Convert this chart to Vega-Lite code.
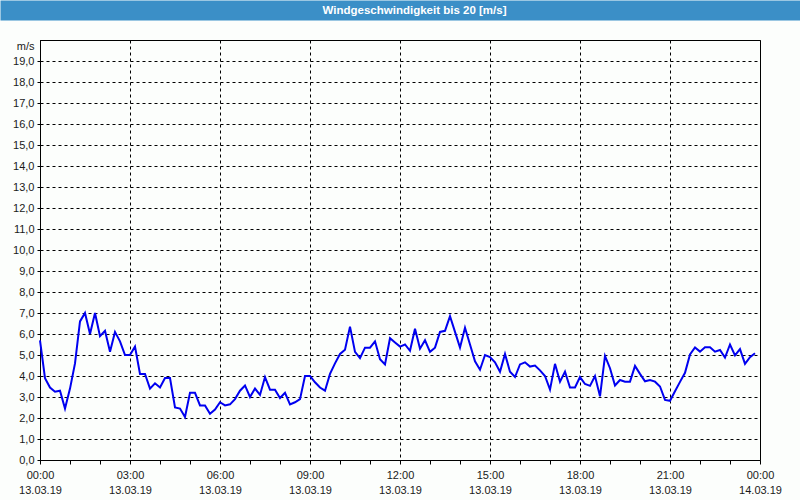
{
  "$schema": "https://vega.github.io/schema/vega-lite/v6.json",
  "background": "#fcfefc",
  "autosize": {"type": "none"},
  "padding": {"left": 40, "top": 40, "right": 40, "bottom": 40},
  "width": 720,
  "height": 420,
  "view": {"fill": "#fcfefc", "stroke": "black", "strokeWidth": 1},
  "data": {"values": [
    {"time": "2019-03-13T00:00:00Z", "speed": 5.7},
    {"time": "2019-03-13T00:10:00Z", "speed": 3.9},
    {"time": "2019-03-13T00:20:00Z", "speed": 3.45},
    {"time": "2019-03-13T00:30:00Z", "speed": 3.25},
    {"time": "2019-03-13T00:40:00Z", "speed": 3.3},
    {"time": "2019-03-13T00:50:00Z", "speed": 2.45},
    {"time": "2019-03-13T01:00:00Z", "speed": 3.4},
    {"time": "2019-03-13T01:10:00Z", "speed": 4.6},
    {"time": "2019-03-13T01:20:00Z", "speed": 6.6},
    {"time": "2019-03-13T01:30:00Z", "speed": 7.0},
    {"time": "2019-03-13T01:40:00Z", "speed": 6.0},
    {"time": "2019-03-13T01:50:00Z", "speed": 7.0},
    {"time": "2019-03-13T02:00:00Z", "speed": 5.9},
    {"time": "2019-03-13T02:10:00Z", "speed": 6.15},
    {"time": "2019-03-13T02:20:00Z", "speed": 5.15},
    {"time": "2019-03-13T02:30:00Z", "speed": 6.1},
    {"time": "2019-03-13T02:40:00Z", "speed": 5.65},
    {"time": "2019-03-13T02:50:00Z", "speed": 5.0},
    {"time": "2019-03-13T03:00:00Z", "speed": 5.0},
    {"time": "2019-03-13T03:10:00Z", "speed": 5.4},
    {"time": "2019-03-13T03:20:00Z", "speed": 4.1},
    {"time": "2019-03-13T03:30:00Z", "speed": 4.1},
    {"time": "2019-03-13T03:40:00Z", "speed": 3.4},
    {"time": "2019-03-13T03:50:00Z", "speed": 3.65},
    {"time": "2019-03-13T04:00:00Z", "speed": 3.45},
    {"time": "2019-03-13T04:10:00Z", "speed": 3.9},
    {"time": "2019-03-13T04:20:00Z", "speed": 3.9},
    {"time": "2019-03-13T04:30:00Z", "speed": 2.5},
    {"time": "2019-03-13T04:40:00Z", "speed": 2.45},
    {"time": "2019-03-13T04:50:00Z", "speed": 2.05},
    {"time": "2019-03-13T05:00:00Z", "speed": 3.2},
    {"time": "2019-03-13T05:10:00Z", "speed": 3.2},
    {"time": "2019-03-13T05:20:00Z", "speed": 2.6},
    {"time": "2019-03-13T05:30:00Z", "speed": 2.6},
    {"time": "2019-03-13T05:40:00Z", "speed": 2.2},
    {"time": "2019-03-13T05:50:00Z", "speed": 2.4},
    {"time": "2019-03-13T06:00:00Z", "speed": 2.75},
    {"time": "2019-03-13T06:10:00Z", "speed": 2.6},
    {"time": "2019-03-13T06:20:00Z", "speed": 2.65},
    {"time": "2019-03-13T06:30:00Z", "speed": 2.9},
    {"time": "2019-03-13T06:40:00Z", "speed": 3.3},
    {"time": "2019-03-13T06:50:00Z", "speed": 3.55},
    {"time": "2019-03-13T07:00:00Z", "speed": 3.0},
    {"time": "2019-03-13T07:10:00Z", "speed": 3.4},
    {"time": "2019-03-13T07:20:00Z", "speed": 3.1},
    {"time": "2019-03-13T07:30:00Z", "speed": 3.95},
    {"time": "2019-03-13T07:40:00Z", "speed": 3.35},
    {"time": "2019-03-13T07:50:00Z", "speed": 3.35},
    {"time": "2019-03-13T08:00:00Z", "speed": 2.95},
    {"time": "2019-03-13T08:10:00Z", "speed": 3.2},
    {"time": "2019-03-13T08:20:00Z", "speed": 2.65},
    {"time": "2019-03-13T08:30:00Z", "speed": 2.75},
    {"time": "2019-03-13T08:40:00Z", "speed": 2.9},
    {"time": "2019-03-13T08:50:00Z", "speed": 4.0},
    {"time": "2019-03-13T09:00:00Z", "speed": 4.0},
    {"time": "2019-03-13T09:10:00Z", "speed": 3.7},
    {"time": "2019-03-13T09:20:00Z", "speed": 3.45},
    {"time": "2019-03-13T09:30:00Z", "speed": 3.3},
    {"time": "2019-03-13T09:40:00Z", "speed": 4.1},
    {"time": "2019-03-13T09:50:00Z", "speed": 4.6},
    {"time": "2019-03-13T10:00:00Z", "speed": 5.05},
    {"time": "2019-03-13T10:10:00Z", "speed": 5.25},
    {"time": "2019-03-13T10:20:00Z", "speed": 6.35},
    {"time": "2019-03-13T10:30:00Z", "speed": 5.15},
    {"time": "2019-03-13T10:40:00Z", "speed": 4.85},
    {"time": "2019-03-13T10:50:00Z", "speed": 5.35},
    {"time": "2019-03-13T11:00:00Z", "speed": 5.35},
    {"time": "2019-03-13T11:10:00Z", "speed": 5.65},
    {"time": "2019-03-13T11:20:00Z", "speed": 4.8},
    {"time": "2019-03-13T11:30:00Z", "speed": 4.55},
    {"time": "2019-03-13T11:40:00Z", "speed": 5.8},
    {"time": "2019-03-13T11:50:00Z", "speed": 5.6},
    {"time": "2019-03-13T12:00:00Z", "speed": 5.4},
    {"time": "2019-03-13T12:10:00Z", "speed": 5.5},
    {"time": "2019-03-13T12:20:00Z", "speed": 5.2},
    {"time": "2019-03-13T12:30:00Z", "speed": 6.25},
    {"time": "2019-03-13T12:40:00Z", "speed": 5.3},
    {"time": "2019-03-13T12:50:00Z", "speed": 5.7},
    {"time": "2019-03-13T13:00:00Z", "speed": 5.15},
    {"time": "2019-03-13T13:10:00Z", "speed": 5.35},
    {"time": "2019-03-13T13:20:00Z", "speed": 6.1},
    {"time": "2019-03-13T13:30:00Z", "speed": 6.15},
    {"time": "2019-03-13T13:40:00Z", "speed": 6.85},
    {"time": "2019-03-13T13:50:00Z", "speed": 6.1},
    {"time": "2019-03-13T14:00:00Z", "speed": 5.35},
    {"time": "2019-03-13T14:10:00Z", "speed": 6.3},
    {"time": "2019-03-13T14:20:00Z", "speed": 5.5},
    {"time": "2019-03-13T14:30:00Z", "speed": 4.7},
    {"time": "2019-03-13T14:40:00Z", "speed": 4.3},
    {"time": "2019-03-13T14:50:00Z", "speed": 5.0},
    {"time": "2019-03-13T15:00:00Z", "speed": 4.9},
    {"time": "2019-03-13T15:10:00Z", "speed": 4.65},
    {"time": "2019-03-13T15:20:00Z", "speed": 4.2},
    {"time": "2019-03-13T15:30:00Z", "speed": 5.05},
    {"time": "2019-03-13T15:40:00Z", "speed": 4.2},
    {"time": "2019-03-13T15:50:00Z", "speed": 3.95},
    {"time": "2019-03-13T16:00:00Z", "speed": 4.55},
    {"time": "2019-03-13T16:10:00Z", "speed": 4.65},
    {"time": "2019-03-13T16:20:00Z", "speed": 4.45},
    {"time": "2019-03-13T16:30:00Z", "speed": 4.5},
    {"time": "2019-03-13T16:40:00Z", "speed": 4.27},
    {"time": "2019-03-13T16:50:00Z", "speed": 4.0},
    {"time": "2019-03-13T17:00:00Z", "speed": 3.35},
    {"time": "2019-03-13T17:10:00Z", "speed": 4.58},
    {"time": "2019-03-13T17:20:00Z", "speed": 3.73},
    {"time": "2019-03-13T17:30:00Z", "speed": 4.21},
    {"time": "2019-03-13T17:40:00Z", "speed": 3.45},
    {"time": "2019-03-13T17:50:00Z", "speed": 3.45},
    {"time": "2019-03-13T18:00:00Z", "speed": 3.95},
    {"time": "2019-03-13T18:10:00Z", "speed": 3.62},
    {"time": "2019-03-13T18:20:00Z", "speed": 3.53},
    {"time": "2019-03-13T18:30:00Z", "speed": 4.0},
    {"time": "2019-03-13T18:40:00Z", "speed": 3.03},
    {"time": "2019-03-13T18:50:00Z", "speed": 4.96},
    {"time": "2019-03-13T19:00:00Z", "speed": 4.37},
    {"time": "2019-03-13T19:10:00Z", "speed": 3.55},
    {"time": "2019-03-13T19:20:00Z", "speed": 3.81},
    {"time": "2019-03-13T19:30:00Z", "speed": 3.73},
    {"time": "2019-03-13T19:40:00Z", "speed": 3.73},
    {"time": "2019-03-13T19:50:00Z", "speed": 4.48},
    {"time": "2019-03-13T20:00:00Z", "speed": 4.1},
    {"time": "2019-03-13T20:10:00Z", "speed": 3.75},
    {"time": "2019-03-13T20:20:00Z", "speed": 3.81},
    {"time": "2019-03-13T20:30:00Z", "speed": 3.73},
    {"time": "2019-03-13T20:40:00Z", "speed": 3.5},
    {"time": "2019-03-13T20:50:00Z", "speed": 2.86},
    {"time": "2019-03-13T21:00:00Z", "speed": 2.82},
    {"time": "2019-03-13T21:10:00Z", "speed": 3.27},
    {"time": "2019-03-13T21:20:00Z", "speed": 3.72},
    {"time": "2019-03-13T21:30:00Z", "speed": 4.15},
    {"time": "2019-03-13T21:40:00Z", "speed": 5.03},
    {"time": "2019-03-13T21:50:00Z", "speed": 5.36},
    {"time": "2019-03-13T22:00:00Z", "speed": 5.16},
    {"time": "2019-03-13T22:10:00Z", "speed": 5.37},
    {"time": "2019-03-13T22:20:00Z", "speed": 5.37},
    {"time": "2019-03-13T22:30:00Z", "speed": 5.16},
    {"time": "2019-03-13T22:40:00Z", "speed": 5.24},
    {"time": "2019-03-13T22:50:00Z", "speed": 4.88},
    {"time": "2019-03-13T23:00:00Z", "speed": 5.5},
    {"time": "2019-03-13T23:10:00Z", "speed": 4.98},
    {"time": "2019-03-13T23:20:00Z", "speed": 5.28},
    {"time": "2019-03-13T23:30:00Z", "speed": 4.58},
    {"time": "2019-03-13T23:40:00Z", "speed": 4.9},
    {"time": "2019-03-13T23:50:00Z", "speed": 5.08}
  ]},
  "encoding": {
    "y": {
      "field": "speed",
      "type": "quantitative",
      "scale": {"domain": [0, 20], "nice": false},
      "axis": {
        "title": null,
        "values": [0, 1, 2, 3, 4, 5, 6, 7, 8, 9, 10, 11, 12, 13, 14, 15, 16, 17, 18, 19, 20],
        "labelExpr": "datum.value == 20 ? 'm/s' : replace(format(datum.value, '.1f'), '.', ',')",
        "labelBaseline": {"condition": {"test": "datum.value == 20", "value": "top"}, "value": "middle"},
        "labelFont": "Liberation Sans",
        "labelFontSize": 11,
        "labelColor": "#1a1a1a",
        "labelPadding": 2,
        "labelOverlap": false,
        "labelFlush": false,
        "labelBound": false,
        "tickSize": 4,
        "tickColor": "black",
        "tickDash": [3, 3],
        "tickOpacity": {"condition": {"test": "datum.value == 20", "value": 0}, "value": 1},
        "domainColor": "black",
        "grid": true,
        "gridColor": "black",
        "gridDash": [3, 3]
      }
    }
  },
  "layer": [
    {
      "mark": {"type": "line", "color": "#0000f0", "strokeWidth": 2},
      "encoding": {
        "x": {
          "field": "time",
          "type": "temporal",
          "scale": {"type": "utc", "domain": [1552435200000, 1552521600000], "nice": false},
          "axis": {
            "title": null,
            "values": [1552435200000, 1552438800000, 1552442400000, 1552446000000, 1552449600000, 1552453200000, 1552456800000, 1552460400000, 1552464000000, 1552467600000, 1552471200000, 1552474800000, 1552478400000, 1552482000000, 1552485600000, 1552489200000, 1552492800000, 1552496400000, 1552500000000, 1552503600000, 1552507200000, 1552510800000, 1552514400000, 1552518000000, 1552521600000],
            "labelExpr": "utchours(datum.value) % 3 == 0 ? [utcFormat(datum.value, '%H:%M'), utcFormat(datum.value, '%d.%m.%y')] : ''",
            "labelFont": "Liberation Sans",
            "labelFontSize": 11,
            "labelColor": "#1a1a1a",
            "labelLineHeight": 15,
            "labelPadding": 5,
            "labelOverlap": false,
            "labelFlush": false,
            "labelBound": false,
            "tickSize": 4,
            "tickColor": "black",
            "domainColor": "black",
            "grid": true,
            "gridColor": "black",
            "gridDash": [3, 3],
            "gridOpacity": {"condition": {"test": "utchours(datum.value) % 3 == 0", "value": 1}, "value": 0}
          }
        }
      }
    },
    {
      "mark": {"type": "line", "opacity": 0},
      "encoding": {
        "x": {
          "field": "time",
          "type": "temporal",
          "scale": {"type": "utc", "domain": [1552435200000, 1552521600000], "nice": false},
          "axis": {
            "orient": "top",
            "title": null,
            "values": [1552478400000],
            "labelExpr": "'Windgeschwindigkeit bis 20 [m/s]'",
            "labelFont": "Liberation Sans",
            "labelFontSize": 11.5,
            "labelFontWeight": "bold",
            "labelColor": "white",
            "labelBaseline": "middle",
            "labelAlign": "center",
            "labelPadding": -10,
            "labelOffset": 14,
            "labelLimit": 0,
            "labelOverlap": false,
            "labelFlush": false,
            "labelBound": false,
            "domain": false,
            "grid": false,
            "offset": 20,
            "tickSize": 20,
            "tickWidth": 800,
            "tickColor": "#3b8fc7",
            "tickCap": "butt"
          }
        }
      }
    }
  ],
  "resolve": {"axis": {"x": "independent"}}
}
